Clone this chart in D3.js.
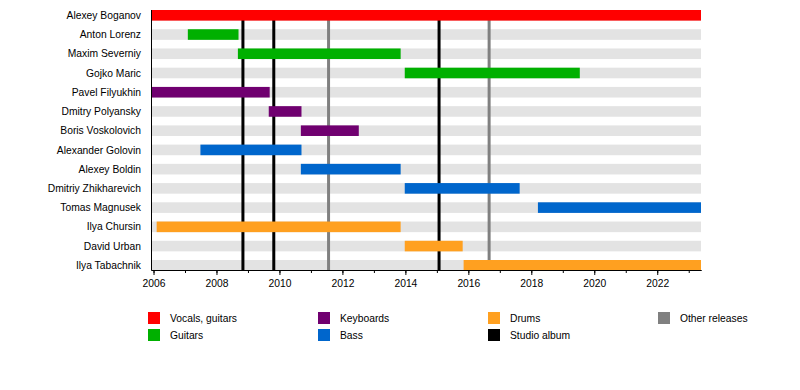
<!DOCTYPE html>
<meta charset="utf-8">
<style>
  body { margin: 0; background: #fff; }
  text { font-family: "Liberation Sans", Arial, sans-serif; font-size: 10.3px; fill: #000; }
  .axis path, .axis line { stroke: #000; }
</style>
<body>
<svg id="chart"></svg>
<script src="https://cdn.jsdelivr.net/npm/d3@7"></script>
<script>
  var width = 800, height = 390;

  // members, role and period (decimal years)
  var members = ["Alexey Boganov", "Anton Lorenz", "Maxim Severniy", "Gojko Maric", "Pavel Filyukhin",
    "Dmitry Polyansky", "Boris Voskolovich", "Alexander Golovin", "Alexey Boldin", "Dmitriy Zhikharevich",
    "Tomas Magnusek", "Ilya Chursin", "David Urban", "Ilya Tabachnik"];
  var roles = ["vocals", "guitars", "guitars", "guitars", "keyboards", "keyboards", "keyboards",
    "bass", "bass", "bass", "bass", "drums", "drums", "drums"];
  var starts = [2005.92, 2007.09, 2008.68, 2013.98, 2005.92, 2009.66, 2010.68, 2007.49, 2010.68,
    2013.98, 2018.21, 2006.1, 2013.98, 2015.85];
  var ends = [2023.39, 2008.7, 2013.85, 2019.54, 2009.69, 2010.7, 2012.52, 2010.7, 2013.85,
    2017.63, 2023.39, 2013.85, 2015.82, 2023.39];

  var studioAlbums = [2008.84, 2009.82, 2015.07];
  var otherReleases = [2011.56, 2016.66];

  var roleKeys = ["vocals", "guitars", "keyboards", "bass", "drums", "studio", "other"];
  var roleColors = ["#ff0000", "#00b000", "#700070", "#0066cc", "#ffa020", "#000000", "#808080"];
  var legendLabels = ["Vocals, guitars", "Guitars", "Keyboards", "Bass", "Drums", "Studio album", "Other releases"];

  var color = d3.scaleOrdinal().domain(roleKeys).range(roleColors);

  var x = d3.scaleLinear().domain([2005.92, 2023.39]).range([151, 701]);
  var y = d3.scaleBand().domain(members).range([10, 270.6]).paddingInner(0.449).paddingOuter(0);

  var svg = d3.select("#chart").attr("width", width).attr("height", height);

  // light background bars
  svg.append("g").selectAll("rect")
    .data(members)
    .enter().append("rect")
    .attr("x", x.range()[0])
    .attr("width", x.range()[1] - x.range()[0])
    .attr("y", function (d) { return y(d); })
    .attr("height", y.bandwidth())
    .attr("fill", "#e3e3e3");

  // release lines
  var lines = studioAlbums.map(function (d) { return { t: d, kind: "studio" }; })
    .concat(otherReleases.map(function (d) { return { t: d, kind: "other" }; }));

  svg.append("g").selectAll("line")
    .data(lines)
    .enter().append("line")
    .attr("x1", function (d) { return x(d.t); })
    .attr("x2", function (d) { return x(d.t); })
    .attr("y1", 10)
    .attr("y2", 270)
    .attr("stroke", function (d) { return color(d.kind); })
    .attr("stroke-width", 3);

  // member bars
  svg.append("g").selectAll("rect")
    .data(members)
    .enter().append("rect")
    .attr("x", function (d, i) { return x(starts[i]); })
    .attr("width", function (d, i) { return x(ends[i]) - x(starts[i]); })
    .attr("y", function (d) { return y(d); })
    .attr("height", y.bandwidth())
    .attr("fill", function (d, i) { return color(roles[i]); });

  // names
  svg.append("g").selectAll("text")
    .data(members)
    .enter().append("text")
    .attr("x", 141)
    .attr("y", function (d) { return y(d) + y.bandwidth() / 2; })
    .attr("dy", "0.35em")
    .attr("text-anchor", "end")
    .text(function (d) { return d; });

  // left axis line
  svg.append("line")
    .attr("x1", 151.5).attr("x2", 151.5)
    .attr("y1", 10).attr("y2", 270)
    .attr("stroke", "#000");

  // minor ticks every year
  svg.append("g")
    .attr("class", "axis")
    .attr("transform", "translate(0,270)")
    .call(d3.axisBottom(x).tickValues(d3.range(2006, 2024)).tickSize(3).tickSizeOuter(0).tickFormat(""));

  // major ticks every two years
  svg.append("g")
    .attr("class", "axis")
    .attr("transform", "translate(0,270)")
    .call(d3.axisBottom(x).tickValues(d3.range(2006, 2023, 2)).tickSize(5).tickSizeOuter(0)
      .tickPadding(5).tickFormat(d3.format("d")))
    .call(function (g) {
      g.selectAll("text").style("font-family", "'Liberation Sans', Arial, sans-serif").style("font-size", "10.3px");
    });

  // legend
  var legend = svg.append("g").selectAll("g")
    .data(roleKeys)
    .enter().append("g")
    .attr("transform", function (d, i) {
      var col = [0, 0, 1, 1, 2, 2, 3][i];
      var row = [0, 1, 0, 1, 0, 1, 0][i];
      return "translate(" + (148 + col * 170) + "," + (312 + row * 17) + ")";
    });

  legend.append("rect")
    .attr("width", 12)
    .attr("height", 12)
    .attr("fill", function (d) { return color(d); });

  legend.append("text")
    .attr("x", 22)
    .attr("y", 6)
    .attr("dy", "0.35em")
    .text(function (d, i) { return legendLabels[i]; });
</script>
</body>
